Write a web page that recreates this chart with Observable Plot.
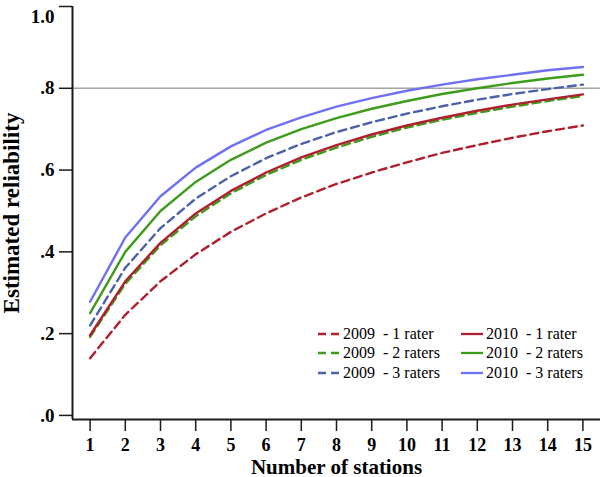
<!DOCTYPE html>
<html>
<head>
<meta charset="utf-8">
<script src="https://cdn.jsdelivr.net/npm/d3@7"></script>
<script src="https://cdn.jsdelivr.net/npm/@observablehq/plot@0.6"></script>
<style>
  html, body { margin: 0; padding: 0; background: #fff; }
  #wrap { position: relative; width: 600px; height: 477px; }
  #legend { position: absolute; left: 318px; top: 324px; font-family: "Liberation Serif", serif; font-size: 16px; color: #000; }
  #legend .row { display: flex; height: 19.5px; align-items: center; }
  #legend .item { display: flex; align-items: center; width: 143px; }
  #legend svg { margin-right: 2px; }
  #legend span { white-space: pre; }
</style>
</head>
<body>
<div id="wrap"><div id="chart"></div><div id="legend"></div></div>
<script>
// ---- data ----
const stations = [1, 2, 3, 4, 5, 6, 7, 8, 9, 10, 11, 12, 13, 14, 15];
const r2009_1 = [0.140, 0.246, 0.328, 0.394, 0.449, 0.494, 0.533, 0.566, 0.594, 0.619, 0.642, 0.661, 0.679, 0.695, 0.709];
const r2009_2 = [0.192, 0.322, 0.416, 0.487, 0.543, 0.588, 0.625, 0.655, 0.681, 0.704, 0.723, 0.740, 0.755, 0.769, 0.781];
const r2009_3 = [0.220, 0.361, 0.458, 0.530, 0.585, 0.629, 0.664, 0.693, 0.717, 0.738, 0.756, 0.772, 0.786, 0.798, 0.809];
const r2010_1 = [0.196, 0.328, 0.422, 0.494, 0.549, 0.594, 0.631, 0.661, 0.687, 0.709, 0.728, 0.745, 0.760, 0.773, 0.785];
const r2010_2 = [0.250, 0.400, 0.500, 0.571, 0.625, 0.667, 0.700, 0.727, 0.750, 0.769, 0.786, 0.800, 0.813, 0.824, 0.833];
const r2010_3 = [0.278, 0.435, 0.536, 0.606, 0.658, 0.698, 0.729, 0.755, 0.776, 0.794, 0.809, 0.822, 0.833, 0.844, 0.852];
const seriesNames = ["2009  - 1 rater", "2009  - 2 raters", "2009  - 3 raters", "2010  - 1 rater", "2010  - 2 raters", "2010  - 3 raters"];
const seriesValues = [r2009_1, r2009_2, r2009_3, r2010_1, r2010_2, r2010_3];
const seriesColors = ["#b01f2e", "#3f9b1c", "#4b62aa", "#b01f2e", "#3f9b1c", "#6f70f2"];
const seriesDashed = [true, true, true, false, false, false];
const yTicks = [0, 0.2, 0.4, 0.6, 0.8, 1.0];
const yTickLabels = [".0", ".2", ".4", ".6", ".8", "1.0"];
const referenceLine = 0.8;
const xDomain = [0.5, 15.5];
const yDomain = [-0.01, 1.0];

const dash = "8,5";
const serif = "Liberation Serif, Times New Roman, serif";

const rows = [];
seriesNames.forEach((name, i) => stations.forEach((s, j) => rows.push({series: name, idx: i, station: s, value: seriesValues[i][j]})));

const lineMarks = [];
// dashed first, solid on top
[0, 1, 2, 3, 4, 5].forEach(i => {
  lineMarks.push(Plot.line(rows.filter(d => d.idx === i), {
    x: "station", y: "value",
    stroke: seriesColors[i], strokeWidth: 2.4,
    strokeDasharray: seriesDashed[i] ? dash : null,
    curve: "linear"
  }));
});

const chart = Plot.plot({
  width: 600, height: 477,
  marginLeft: 72, marginRight: 0, marginTop: 6, marginBottom: 58,
  style: {fontFamily: serif, color: "#000", background: "#fff", overflow: "visible"},
  x: {domain: xDomain},
  y: {domain: yDomain},
  marks: [
    Plot.ruleY([referenceLine], {stroke: "#a4a4a4", strokeWidth: 1.6}),
    ...lineMarks,
    Plot.ruleX([xDomain[0]], {stroke: "#1a1a1a", strokeWidth: 2}),
    Plot.ruleY([yDomain[0]], {stroke: "#1a1a1a", strokeWidth: 2}),
    Plot.axisX({ticks: stations, tickFormat: d => String(d), tickSize: 12, tickPadding: 7,
      fontSize: 18, fontWeight: "bold", stroke: "#1a1a1a", strokeWidth: 1.5,
      label: "Number of stations", labelAnchor: "center", labelArrow: "none", labelOffset: 54}),
    Plot.axisY({ticks: yTicks, tickFormat: (d, i) => yTickLabels[yTicks.indexOf(d)], tickSize: 13, tickPadding: 5,
      fontSize: 19, fontWeight: "bold", stroke: "#1a1a1a", strokeWidth: 1.5,
      label: "Estimated reliability", labelAnchor: "center", labelArrow: "none", labelOffset: 70})
  ]
});
document.getElementById("chart").appendChild(chart);
d3.select(chart).select('[aria-label="x-axis label"]').attr("font-size", 21).attr("font-weight", "bold");
d3.select(chart).select('[aria-label="y-axis label"]').attr("font-size", 23).attr("font-weight", "bold");
// keep the top tick label inside the picture
d3.select(chart).selectAll('[aria-label="y-axis tick label"] text')
  .filter(function () { return this.textContent === yTickLabels[yTickLabels.length - 1]; })
  .attr("dy", "0.55em");

// legend (HTML overlay, two columns: 2009 dashed, 2010 solid)
const legend = d3.select("#legend");
for (let r = 0; r < 3; r++) {
  const row = legend.append("div").attr("class", "row");
  [r, r + 3].forEach(i => {
    const item = row.append("div").attr("class", "item");
    const sw = item.append("svg").attr("width", 23).attr("height", 6);
    sw.append("line").attr("x1", 0).attr("x2", 22).attr("y1", 3).attr("y2", 3)
      .attr("stroke", seriesColors[i]).attr("stroke-width", 2.3)
      .attr("stroke-dasharray", seriesDashed[i] ? dash : null);
    item.append("span").text(seriesNames[i]);
  });
}
</script>
</body>
</html>
